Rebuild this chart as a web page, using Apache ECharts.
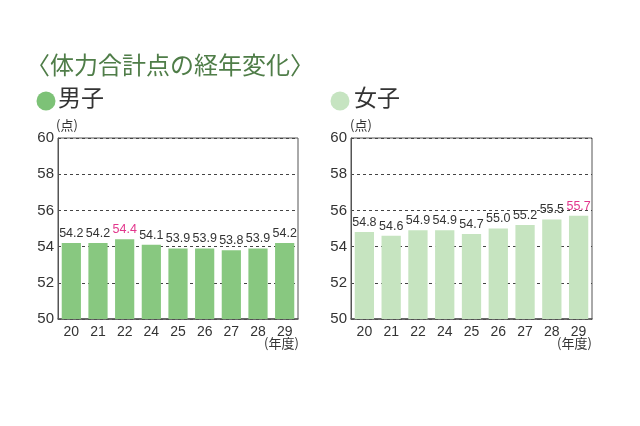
<!DOCTYPE html>
<html><head><meta charset="utf-8">
<script src="https://cdn.jsdelivr.net/npm/echarts@6/dist/echarts.min.js"></script>
<style>html,body{margin:0;padding:0;background:#fff}#c{width:640px;height:426px}</style>
</head><body><div id="c"></div>
<script>
const years = ['20','21','22','24','25','26','27','28','29'];
const boys = [54.2, 54.2, 54.4, 54.1, 53.9, 53.9, 53.8, 53.9, 54.2];
const girls = [54.8, 54.6, 54.9, 54.9, 54.7, 55.0, 55.2, 55.5, 55.7];
const boysHighlight = [2];
const girlsHighlight = [8];
const yTicks = [50, 52, 54, 56, 58, 60];

const JP = '"Noto Sans CJK JP", sans-serif';
const NUM = '"Liberation Sans", Arial, sans-serif';
const boyColor = '#88c880';
const girlColor = '#c6e4c0';
const pink = '#e2368c';

function mkData(vals, hi) {
  return vals.map((v, i) => hi.includes(i) ? {value: v, label: {color: pink}} : v);
}
function xAxis(gi) {
  return {type: 'category', gridIndex: gi, data: years,
    axisLine: {lineStyle: {color: '#555', width: 1.5}}, axisTick: {show: false},
    axisLabel: {color: '#333', fontSize: 14, fontFamily: NUM, margin: 6}};
}
function yAxis(gi) {
  return {type: 'value', gridIndex: gi, min: yTicks[0], max: yTicks[yTicks.length - 1], interval: 2,
    axisLine: {show: true, lineStyle: {color: '#555'}}, axisTick: {show: false},
    axisLabel: {color: '#333', fontSize: 15, fontFamily: NUM, margin: 4},
    splitLine: {show: true, lineStyle: {color: '#444', type: [3, 3], width: 1}}};
}
function series(gi, vals, hi, color) {
  return {type: 'bar', xAxisIndex: gi, yAxisIndex: gi, data: mkData(vals, hi),
    barWidth: '72%', itemStyle: {color: color},
    label: {show: true, position: 'top', distance: 3, color: '#333', fontSize: 12.5, fontFamily: NUM,
      formatter: p => Number(p.value).toFixed(1)}};
}
const chart = echarts.init(document.getElementById('c'));
chart.setOption({
  animation: false,
  grid: [
    {left: 58, top: 138, width: 240, height: 181, show: true, borderColor: '#555', borderWidth: 1},
    {left: 351, top: 138, width: 241, height: 181, show: true, borderColor: '#555', borderWidth: 1}
  ],
  xAxis: [xAxis(0), xAxis(1)],
  yAxis: [yAxis(0), yAxis(1)],
  series: [series(0, boys, boysHighlight, boyColor), series(1, girls, girlsHighlight, girlColor)],
  graphic: [
    {type: 'text', left: 26, top: 53, style: {text: '〈体力合計点の経年変化〉', font: '24px ' + JP, fill: '#4f7d48'}},
    {type: 'circle', shape: {cx: 46, cy: 101, r: 9.5}, style: {fill: '#7dc277'}},
    {type: 'text', left: 58, top: 86, style: {text: '男子', font: '23px ' + JP, fill: '#333'}},
    {type: 'circle', shape: {cx: 340, cy: 101, r: 9.5}, style: {fill: '#c6e4c1'}},
    {type: 'text', left: 354, top: 86, style: {text: '女子', font: '23px ' + JP, fill: '#333'}},
    {type: 'text', left: 56, top: 119, style: {text: '(点)', font: '13px ' + JP, fill: '#333'}},
    {type: 'text', left: 350, top: 119, style: {text: '(点)', font: '13px ' + JP, fill: '#333'}},
    {type: 'text', left: 264, top: 337, style: {text: '(年度)', font: '13px ' + JP, fill: '#333'}},
    {type: 'text', left: 557, top: 337, style: {text: '(年度)', font: '13px ' + JP, fill: '#333'}}
  ]
});
</script></body></html>
